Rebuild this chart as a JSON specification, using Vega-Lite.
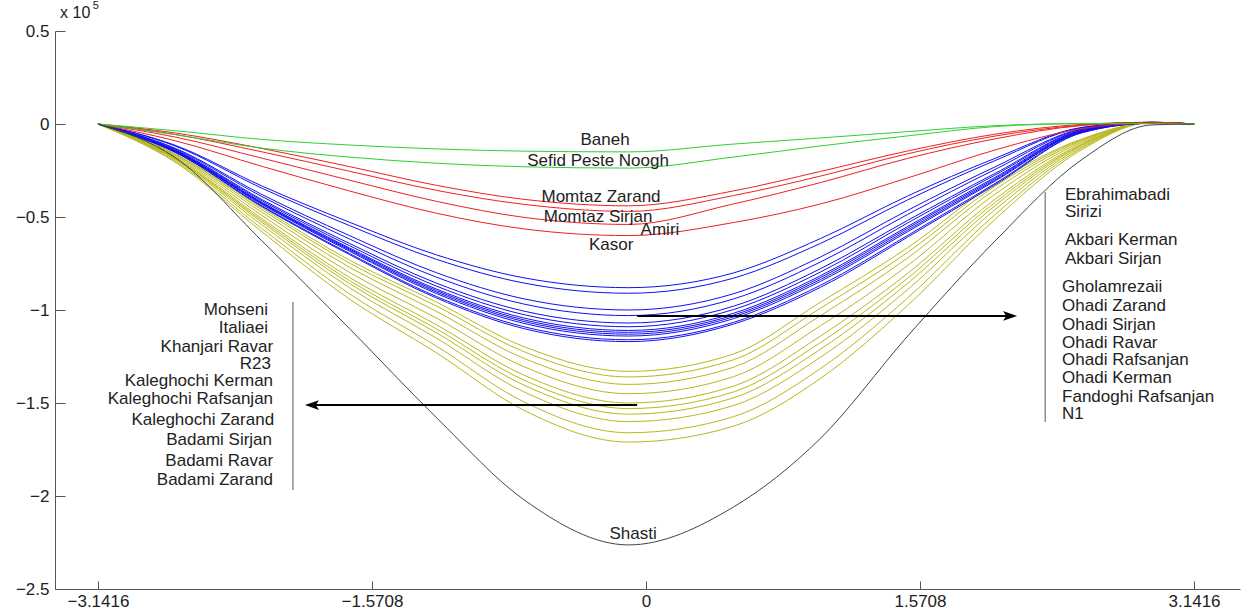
{
"$schema": "https://vega.github.io/schema/vega-lite/v6.json",
"width": 1185, "height": 558, "autosize": "none",
"padding": {"left": 55, "top": 31, "right": 12, "bottom": 23},
"background": "white",
"config": {"view": {"stroke": null}, "font": "Liberation Sans"},
"datasets": {
"yellow": [
{"s":"Mohseni","x":-3.1416,"y":0},{"s":"Mohseni","x":-2.7,"y":-0.16},{"s":"Mohseni","x":-2.2,"y":-0.452},{"s":"Mohseni","x":-1.7,"y":-0.732},{"s":"Mohseni","x":-1.2,"y":-0.958},{"s":"Mohseni","x":-0.7,"y":-1.197},{"s":"Mohseni","x":-0.1,"y":-1.33},{"s":"Mohseni","x":0.5,"y":-1.237},{"s":"Mohseni","x":1.0,"y":-0.958},{"s":"Mohseni","x":1.5,"y":-0.665},{"s":"Mohseni","x":2.0,"y":-0.319},{"s":"Mohseni","x":2.5,"y":-0.08},{"s":"Mohseni","x":2.9,"y":0.007},{"s":"Mohseni","x":3.1416,"y":0},
{"s":"Italiaei","x":-3.1416,"y":0},{"s":"Italiaei","x":-2.7,"y":-0.163},{"s":"Italiaei","x":-2.2,"y":-0.462},{"s":"Italiaei","x":-1.7,"y":-0.748},{"s":"Italiaei","x":-1.2,"y":-0.979},{"s":"Italiaei","x":-0.7,"y":-1.224},{"s":"Italiaei","x":-0.1,"y":-1.36},{"s":"Italiaei","x":0.5,"y":-1.268},{"s":"Italiaei","x":1.0,"y":-0.99},{"s":"Italiaei","x":1.5,"y":-0.69},{"s":"Italiaei","x":2.0,"y":-0.335},{"s":"Italiaei","x":2.5,"y":-0.084},{"s":"Italiaei","x":2.9,"y":0.007},{"s":"Italiaei","x":3.1416,"y":0},
{"s":"Khanjari Ravar","x":-3.1416,"y":0},{"s":"Khanjari Ravar","x":-2.7,"y":-0.168},{"s":"Khanjari Ravar","x":-2.2,"y":-0.476},{"s":"Khanjari Ravar","x":-1.7,"y":-0.77},{"s":"Khanjari Ravar","x":-1.2,"y":-1.008},{"s":"Khanjari Ravar","x":-0.7,"y":-1.26},{"s":"Khanjari Ravar","x":-0.1,"y":-1.4},{"s":"Khanjari Ravar","x":0.5,"y":-1.308},{"s":"Khanjari Ravar","x":1.0,"y":-1.03},{"s":"Khanjari Ravar","x":1.5,"y":-0.72},{"s":"Khanjari Ravar","x":2.0,"y":-0.353},{"s":"Khanjari Ravar","x":2.5,"y":-0.09},{"s":"Khanjari Ravar","x":2.9,"y":0.007},{"s":"Khanjari Ravar","x":3.1416,"y":0},
{"s":"R23","x":-3.1416,"y":0},{"s":"R23","x":-2.7,"y":-0.174},{"s":"R23","x":-2.2,"y":-0.493},{"s":"R23","x":-1.7,"y":-0.798},{"s":"R23","x":-1.2,"y":-1.044},{"s":"R23","x":-0.7,"y":-1.305},{"s":"R23","x":-0.1,"y":-1.45},{"s":"R23","x":0.5,"y":-1.359},{"s":"R23","x":1.0,"y":-1.085},{"s":"R23","x":1.5,"y":-0.761},{"s":"R23","x":2.0,"y":-0.378},{"s":"R23","x":2.5,"y":-0.097},{"s":"R23","x":2.9,"y":0.007},{"s":"R23","x":3.1416,"y":0},
{"s":"Kaleghochi Kerman","x":-3.1416,"y":0},{"s":"Kaleghochi Kerman","x":-2.7,"y":-0.18},{"s":"Kaleghochi Kerman","x":-2.2,"y":-0.51},{"s":"Kaleghochi Kerman","x":-1.7,"y":-0.825},{"s":"Kaleghochi Kerman","x":-1.2,"y":-1.08},{"s":"Kaleghochi Kerman","x":-0.7,"y":-1.35},{"s":"Kaleghochi Kerman","x":-0.1,"y":-1.5},{"s":"Kaleghochi Kerman","x":0.5,"y":-1.41},{"s":"Kaleghochi Kerman","x":1.0,"y":-1.14},{"s":"Kaleghochi Kerman","x":1.5,"y":-0.803},{"s":"Kaleghochi Kerman","x":2.0,"y":-0.405},{"s":"Kaleghochi Kerman","x":2.5,"y":-0.105},{"s":"Kaleghochi Kerman","x":2.9,"y":0.007},{"s":"Kaleghochi Kerman","x":3.1416,"y":0},
{"s":"Kaleghochi Rafsanjan","x":-3.1416,"y":0},{"s":"Kaleghochi Rafsanjan","x":-2.7,"y":-0.184},{"s":"Kaleghochi Rafsanjan","x":-2.2,"y":-0.52},{"s":"Kaleghochi Rafsanjan","x":-1.7,"y":-0.842},{"s":"Kaleghochi Rafsanjan","x":-1.2,"y":-1.102},{"s":"Kaleghochi Rafsanjan","x":-0.7,"y":-1.377},{"s":"Kaleghochi Rafsanjan","x":-0.1,"y":-1.53},{"s":"Kaleghochi Rafsanjan","x":0.5,"y":-1.441},{"s":"Kaleghochi Rafsanjan","x":1.0,"y":-1.175},{"s":"Kaleghochi Rafsanjan","x":1.5,"y":-0.829},{"s":"Kaleghochi Rafsanjan","x":2.0,"y":-0.422},{"s":"Kaleghochi Rafsanjan","x":2.5,"y":-0.11},{"s":"Kaleghochi Rafsanjan","x":2.9,"y":0.008},{"s":"Kaleghochi Rafsanjan","x":3.1416,"y":0},
{"s":"Kaleghochi Zarand","x":-3.1416,"y":0},{"s":"Kaleghochi Zarand","x":-2.7,"y":-0.187},{"s":"Kaleghochi Zarand","x":-2.2,"y":-0.53},{"s":"Kaleghochi Zarand","x":-1.7,"y":-0.858},{"s":"Kaleghochi Zarand","x":-1.2,"y":-1.123},{"s":"Kaleghochi Zarand","x":-0.7,"y":-1.404},{"s":"Kaleghochi Zarand","x":-0.1,"y":-1.56},{"s":"Kaleghochi Zarand","x":0.5,"y":-1.473},{"s":"Kaleghochi Zarand","x":1.0,"y":-1.211},{"s":"Kaleghochi Zarand","x":1.5,"y":-0.856},{"s":"Kaleghochi Zarand","x":2.0,"y":-0.44},{"s":"Kaleghochi Zarand","x":2.5,"y":-0.115},{"s":"Kaleghochi Zarand","x":2.9,"y":0.008},{"s":"Kaleghochi Zarand","x":3.1416,"y":0},
{"s":"Badami Sirjan","x":-3.1416,"y":0},{"s":"Badami Sirjan","x":-2.7,"y":-0.192},{"s":"Badami Sirjan","x":-2.2,"y":-0.544},{"s":"Badami Sirjan","x":-1.7,"y":-0.88},{"s":"Badami Sirjan","x":-1.2,"y":-1.152},{"s":"Badami Sirjan","x":-0.7,"y":-1.44},{"s":"Badami Sirjan","x":-0.1,"y":-1.6},{"s":"Badami Sirjan","x":0.5,"y":-1.514},{"s":"Badami Sirjan","x":1.0,"y":-1.254},{"s":"Badami Sirjan","x":1.5,"y":-0.89},{"s":"Badami Sirjan","x":2.0,"y":-0.461},{"s":"Badami Sirjan","x":2.5,"y":-0.122},{"s":"Badami Sirjan","x":2.9,"y":0.008},{"s":"Badami Sirjan","x":3.1416,"y":0},
{"s":"Badami Ravar","x":-3.1416,"y":0},{"s":"Badami Ravar","x":-2.7,"y":-0.199},{"s":"Badami Ravar","x":-2.2,"y":-0.564},{"s":"Badami Ravar","x":-1.7,"y":-0.913},{"s":"Badami Ravar","x":-1.2,"y":-1.195},{"s":"Badami Ravar","x":-0.7,"y":-1.494},{"s":"Badami Ravar","x":-0.1,"y":-1.66},{"s":"Badami Ravar","x":0.5,"y":-1.574},{"s":"Badami Ravar","x":1.0,"y":-1.315},{"s":"Badami Ravar","x":1.5,"y":-0.935},{"s":"Badami Ravar","x":2.0,"y":-0.488},{"s":"Badami Ravar","x":2.5,"y":-0.129},{"s":"Badami Ravar","x":2.9,"y":0.008},{"s":"Badami Ravar","x":3.1416,"y":0},
{"s":"Badami Zarand","x":-3.1416,"y":0},{"s":"Badami Zarand","x":-2.7,"y":-0.205},{"s":"Badami Zarand","x":-2.2,"y":-0.581},{"s":"Badami Zarand","x":-1.7,"y":-0.941},{"s":"Badami Zarand","x":-1.2,"y":-1.231},{"s":"Badami Zarand","x":-0.7,"y":-1.539},{"s":"Badami Zarand","x":-0.1,"y":-1.71},{"s":"Badami Zarand","x":0.5,"y":-1.625},{"s":"Badami Zarand","x":1.0,"y":-1.368},{"s":"Badami Zarand","x":1.5,"y":-0.975},{"s":"Badami Zarand","x":2.0,"y":-0.513},{"s":"Badami Zarand","x":2.5,"y":-0.137},{"s":"Badami Zarand","x":2.9,"y":0.009},{"s":"Badami Zarand","x":3.1416,"y":0}
],
"blue": [
{"s":"Ebrahimabadi","x":-3.1416,"y":0},{"s":"Ebrahimabadi","x":-2.7,"y":-0.114},{"s":"Ebrahimabadi","x":-2.2,"y":-0.334},{"s":"Ebrahimabadi","x":-1.7,"y":-0.528},{"s":"Ebrahimabadi","x":-1.2,"y":-0.704},{"s":"Ebrahimabadi","x":-0.7,"y":-0.827},{"s":"Ebrahimabadi","x":-0.1,"y":-0.88},{"s":"Ebrahimabadi","x":0.5,"y":-0.801},{"s":"Ebrahimabadi","x":1.0,"y":-0.616},{"s":"Ebrahimabadi","x":1.5,"y":-0.387},{"s":"Ebrahimabadi","x":2.0,"y":-0.185},{"s":"Ebrahimabadi","x":2.5,"y":-0.018},{"s":"Ebrahimabadi","x":2.9,"y":0.009},{"s":"Ebrahimabadi","x":3.1416,"y":0},
{"s":"Sirizi","x":-3.1416,"y":0},{"s":"Sirizi","x":-2.7,"y":-0.118},{"s":"Sirizi","x":-2.2,"y":-0.346},{"s":"Sirizi","x":-1.7,"y":-0.546},{"s":"Sirizi","x":-1.2,"y":-0.728},{"s":"Sirizi","x":-0.7,"y":-0.855},{"s":"Sirizi","x":-0.1,"y":-0.91},{"s":"Sirizi","x":0.5,"y":-0.829},{"s":"Sirizi","x":1.0,"y":-0.642},{"s":"Sirizi","x":1.5,"y":-0.408},{"s":"Sirizi","x":2.0,"y":-0.197},{"s":"Sirizi","x":2.5,"y":-0.02},{"s":"Sirizi","x":2.9,"y":0.009},{"s":"Sirizi","x":3.1416,"y":0},
{"s":"Akbari Kerman","x":-3.1416,"y":0},{"s":"Akbari Kerman","x":-2.7,"y":-0.13},{"s":"Akbari Kerman","x":-2.2,"y":-0.38},{"s":"Akbari Kerman","x":-1.7,"y":-0.6},{"s":"Akbari Kerman","x":-1.2,"y":-0.8},{"s":"Akbari Kerman","x":-0.7,"y":-0.94},{"s":"Akbari Kerman","x":-0.1,"y":-1.0},{"s":"Akbari Kerman","x":0.5,"y":-0.913},{"s":"Akbari Kerman","x":1.0,"y":-0.715},{"s":"Akbari Kerman","x":1.5,"y":-0.464},{"s":"Akbari Kerman","x":2.0,"y":-0.231},{"s":"Akbari Kerman","x":2.5,"y":-0.026},{"s":"Akbari Kerman","x":2.9,"y":0.009},{"s":"Akbari Kerman","x":3.1416,"y":0},
{"s":"Akbari Sirjan","x":-3.1416,"y":0},{"s":"Akbari Sirjan","x":-2.7,"y":-0.134},{"s":"Akbari Sirjan","x":-2.2,"y":-0.391},{"s":"Akbari Sirjan","x":-1.7,"y":-0.618},{"s":"Akbari Sirjan","x":-1.2,"y":-0.824},{"s":"Akbari Sirjan","x":-0.7,"y":-0.968},{"s":"Akbari Sirjan","x":-0.1,"y":-1.03},{"s":"Akbari Sirjan","x":0.5,"y":-0.941},{"s":"Akbari Sirjan","x":1.0,"y":-0.742},{"s":"Akbari Sirjan","x":1.5,"y":-0.486},{"s":"Akbari Sirjan","x":2.0,"y":-0.245},{"s":"Akbari Sirjan","x":2.5,"y":-0.029},{"s":"Akbari Sirjan","x":2.9,"y":0.008},{"s":"Akbari Sirjan","x":3.1416,"y":0},
{"s":"Gholamrezaii","x":-3.1416,"y":0},{"s":"Gholamrezaii","x":-2.7,"y":-0.139},{"s":"Gholamrezaii","x":-2.2,"y":-0.407},{"s":"Gholamrezaii","x":-1.7,"y":-0.642},{"s":"Gholamrezaii","x":-1.2,"y":-0.856},{"s":"Gholamrezaii","x":-0.7,"y":-1.006},{"s":"Gholamrezaii","x":-0.1,"y":-1.07},{"s":"Gholamrezaii","x":0.5,"y":-0.98},{"s":"Gholamrezaii","x":1.0,"y":-0.778},{"s":"Gholamrezaii","x":1.5,"y":-0.518},{"s":"Gholamrezaii","x":2.0,"y":-0.266},{"s":"Gholamrezaii","x":2.5,"y":-0.033},{"s":"Gholamrezaii","x":2.9,"y":0.007},{"s":"Gholamrezaii","x":3.1416,"y":0},
{"s":"Ohadi Zarand","x":-3.1416,"y":0},{"s":"Ohadi Zarand","x":-2.7,"y":-0.142},{"s":"Ohadi Zarand","x":-2.2,"y":-0.414},{"s":"Ohadi Zarand","x":-1.7,"y":-0.654},{"s":"Ohadi Zarand","x":-1.2,"y":-0.872},{"s":"Ohadi Zarand","x":-0.7,"y":-1.025},{"s":"Ohadi Zarand","x":-0.1,"y":-1.09},{"s":"Ohadi Zarand","x":0.5,"y":-0.998},{"s":"Ohadi Zarand","x":1.0,"y":-0.796},{"s":"Ohadi Zarand","x":1.5,"y":-0.532},{"s":"Ohadi Zarand","x":2.0,"y":-0.275},{"s":"Ohadi Zarand","x":2.5,"y":-0.035},{"s":"Ohadi Zarand","x":2.9,"y":0.007},{"s":"Ohadi Zarand","x":3.1416,"y":0},
{"s":"Ohadi Sirjan","x":-3.1416,"y":0},{"s":"Ohadi Sirjan","x":-2.7,"y":-0.144},{"s":"Ohadi Sirjan","x":-2.2,"y":-0.422},{"s":"Ohadi Sirjan","x":-1.7,"y":-0.666},{"s":"Ohadi Sirjan","x":-1.2,"y":-0.888},{"s":"Ohadi Sirjan","x":-0.7,"y":-1.043},{"s":"Ohadi Sirjan","x":-0.1,"y":-1.11},{"s":"Ohadi Sirjan","x":0.5,"y":-1.018},{"s":"Ohadi Sirjan","x":1.0,"y":-0.816},{"s":"Ohadi Sirjan","x":1.5,"y":-0.551},{"s":"Ohadi Sirjan","x":2.0,"y":-0.287},{"s":"Ohadi Sirjan","x":2.5,"y":-0.038},{"s":"Ohadi Sirjan","x":2.9,"y":0.006},{"s":"Ohadi Sirjan","x":3.1416,"y":0},
{"s":"Ohadi Ravar","x":-3.1416,"y":0},{"s":"Ohadi Ravar","x":-2.7,"y":-0.146},{"s":"Ohadi Ravar","x":-2.2,"y":-0.426},{"s":"Ohadi Ravar","x":-1.7,"y":-0.672},{"s":"Ohadi Ravar","x":-1.2,"y":-0.896},{"s":"Ohadi Ravar","x":-0.7,"y":-1.053},{"s":"Ohadi Ravar","x":-0.1,"y":-1.12},{"s":"Ohadi Ravar","x":0.5,"y":-1.028},{"s":"Ohadi Ravar","x":1.0,"y":-0.826},{"s":"Ohadi Ravar","x":1.5,"y":-0.56},{"s":"Ohadi Ravar","x":2.0,"y":-0.294},{"s":"Ohadi Ravar","x":2.5,"y":-0.039},{"s":"Ohadi Ravar","x":2.9,"y":0.006},{"s":"Ohadi Ravar","x":3.1416,"y":0},
{"s":"Ohadi Rafsanjan","x":-3.1416,"y":0},{"s":"Ohadi Rafsanjan","x":-2.7,"y":-0.147},{"s":"Ohadi Rafsanjan","x":-2.2,"y":-0.429},{"s":"Ohadi Rafsanjan","x":-1.7,"y":-0.678},{"s":"Ohadi Rafsanjan","x":-1.2,"y":-0.904},{"s":"Ohadi Rafsanjan","x":-0.7,"y":-1.062},{"s":"Ohadi Rafsanjan","x":-0.1,"y":-1.13},{"s":"Ohadi Rafsanjan","x":0.5,"y":-1.037},{"s":"Ohadi Rafsanjan","x":1.0,"y":-0.836},{"s":"Ohadi Rafsanjan","x":1.5,"y":-0.57},{"s":"Ohadi Rafsanjan","x":2.0,"y":-0.301},{"s":"Ohadi Rafsanjan","x":2.5,"y":-0.041},{"s":"Ohadi Rafsanjan","x":2.9,"y":0.005},{"s":"Ohadi Rafsanjan","x":3.1416,"y":0},
{"s":"Ohadi Kerman","x":-3.1416,"y":0},{"s":"Ohadi Kerman","x":-2.7,"y":-0.148},{"s":"Ohadi Kerman","x":-2.2,"y":-0.433},{"s":"Ohadi Kerman","x":-1.7,"y":-0.684},{"s":"Ohadi Kerman","x":-1.2,"y":-0.912},{"s":"Ohadi Kerman","x":-0.7,"y":-1.072},{"s":"Ohadi Kerman","x":-0.1,"y":-1.14},{"s":"Ohadi Kerman","x":0.5,"y":-1.047},{"s":"Ohadi Kerman","x":1.0,"y":-0.846},{"s":"Ohadi Kerman","x":1.5,"y":-0.579},{"s":"Ohadi Kerman","x":2.0,"y":-0.307},{"s":"Ohadi Kerman","x":2.5,"y":-0.042},{"s":"Ohadi Kerman","x":2.9,"y":0.005},{"s":"Ohadi Kerman","x":3.1416,"y":0},
{"s":"Fandoghi Rafsanjan","x":-3.1416,"y":0},{"s":"Fandoghi Rafsanjan","x":-2.7,"y":-0.151},{"s":"Fandoghi Rafsanjan","x":-2.2,"y":-0.441},{"s":"Fandoghi Rafsanjan","x":-1.7,"y":-0.696},{"s":"Fandoghi Rafsanjan","x":-1.2,"y":-0.928},{"s":"Fandoghi Rafsanjan","x":-0.7,"y":-1.09},{"s":"Fandoghi Rafsanjan","x":-0.1,"y":-1.16},{"s":"Fandoghi Rafsanjan","x":0.5,"y":-1.067},{"s":"Fandoghi Rafsanjan","x":1.0,"y":-0.867},{"s":"Fandoghi Rafsanjan","x":1.5,"y":-0.599},{"s":"Fandoghi Rafsanjan","x":2.0,"y":-0.321},{"s":"Fandoghi Rafsanjan","x":2.5,"y":-0.045},{"s":"Fandoghi Rafsanjan","x":2.9,"y":0.004},{"s":"Fandoghi Rafsanjan","x":3.1416,"y":0},
{"s":"N1","x":-3.1416,"y":0},{"s":"N1","x":-2.7,"y":-0.152},{"s":"N1","x":-2.2,"y":-0.445},{"s":"N1","x":-1.7,"y":-0.702},{"s":"N1","x":-1.2,"y":-0.936},{"s":"N1","x":-0.7,"y":-1.1},{"s":"N1","x":-0.1,"y":-1.17},{"s":"N1","x":0.5,"y":-1.076},{"s":"N1","x":1.0,"y":-0.878},{"s":"N1","x":1.5,"y":-0.608},{"s":"N1","x":2.0,"y":-0.328},{"s":"N1","x":2.5,"y":-0.047},{"s":"N1","x":2.9,"y":0.004},{"s":"N1","x":3.1416,"y":0}
],
"red": [
{"s":"Momtaz Zarand","x":-3.1416,"y":0},{"s":"Momtaz Zarand","x":-2.7,"y":-0.048},{"s":"Momtaz Zarand","x":-2.2,"y":-0.132},{"s":"Momtaz Zarand","x":-1.7,"y":-0.229},{"s":"Momtaz Zarand","x":-1.2,"y":-0.33},{"s":"Momtaz Zarand","x":-0.7,"y":-0.405},{"s":"Momtaz Zarand","x":-0.1,"y":-0.44},{"s":"Momtaz Zarand","x":0.5,"y":-0.36},{"s":"Momtaz Zarand","x":1.0,"y":-0.255},{"s":"Momtaz Zarand","x":1.5,"y":-0.145},{"s":"Momtaz Zarand","x":2.0,"y":-0.055},{"s":"Momtaz Zarand","x":2.5,"y":-0.002},{"s":"Momtaz Zarand","x":2.9,"y":0.009},{"s":"Momtaz Zarand","x":3.1416,"y":0},
{"s":"Momtaz Sirjan","x":-3.1416,"y":0},{"s":"Momtaz Sirjan","x":-2.7,"y":-0.056},{"s":"Momtaz Sirjan","x":-2.2,"y":-0.15},{"s":"Momtaz Sirjan","x":-1.7,"y":-0.254},{"s":"Momtaz Sirjan","x":-1.2,"y":-0.357},{"s":"Momtaz Sirjan","x":-0.7,"y":-0.432},{"s":"Momtaz Sirjan","x":-0.1,"y":-0.47},{"s":"Momtaz Sirjan","x":0.5,"y":-0.385},{"s":"Momtaz Sirjan","x":1.0,"y":-0.28},{"s":"Momtaz Sirjan","x":1.5,"y":-0.16},{"s":"Momtaz Sirjan","x":2.0,"y":-0.065},{"s":"Momtaz Sirjan","x":2.5,"y":-0.006},{"s":"Momtaz Sirjan","x":2.9,"y":0.009},{"s":"Momtaz Sirjan","x":3.1416,"y":0},
{"s":"Amiri","x":-3.1416,"y":0},{"s":"Amiri","x":-2.7,"y":-0.07},{"s":"Amiri","x":-2.2,"y":-0.184},{"s":"Amiri","x":-1.7,"y":-0.302},{"s":"Amiri","x":-1.2,"y":-0.416},{"s":"Amiri","x":-0.7,"y":-0.502},{"s":"Amiri","x":-0.1,"y":-0.54},{"s":"Amiri","x":0.5,"y":-0.43},{"s":"Amiri","x":1.0,"y":-0.315},{"s":"Amiri","x":1.5,"y":-0.185},{"s":"Amiri","x":2.0,"y":-0.08},{"s":"Amiri","x":2.5,"y":-0.008},{"s":"Amiri","x":2.9,"y":0.008},{"s":"Amiri","x":3.1416,"y":0},
{"s":"Kasor","x":-3.1416,"y":0},{"s":"Kasor","x":-2.7,"y":-0.09},{"s":"Kasor","x":-2.2,"y":-0.228},{"s":"Kasor","x":-1.7,"y":-0.36},{"s":"Kasor","x":-1.2,"y":-0.48},{"s":"Kasor","x":-0.7,"y":-0.564},{"s":"Kasor","x":-0.1,"y":-0.6},{"s":"Kasor","x":0.5,"y":-0.53},{"s":"Kasor","x":1.0,"y":-0.43},{"s":"Kasor","x":1.5,"y":-0.29},{"s":"Kasor","x":2.0,"y":-0.14},{"s":"Kasor","x":2.5,"y":-0.025},{"s":"Kasor","x":2.9,"y":0.006},{"s":"Kasor","x":3.1416,"y":0}
],
"green": [
{"s":"Baneh","x":-3.1416,"y":0},{"s":"Baneh","x":-2.7,"y":-0.036},{"s":"Baneh","x":-2.2,"y":-0.083},{"s":"Baneh","x":-1.7,"y":-0.113},{"s":"Baneh","x":-1.2,"y":-0.134},{"s":"Baneh","x":-0.7,"y":-0.146},{"s":"Baneh","x":-0.1,"y":-0.15},{"s":"Baneh","x":0.5,"y":-0.108},{"s":"Baneh","x":1.0,"y":-0.075},{"s":"Baneh","x":1.5,"y":-0.041},{"s":"Baneh","x":2.0,"y":-0.009},{"s":"Baneh","x":2.5,"y":0.002},{"s":"Baneh","x":2.9,"y":0.002},{"s":"Baneh","x":3.1416,"y":0},
{"s":"Sefid Peste Noogh","x":-3.1416,"y":0},{"s":"Sefid Peste Noogh","x":-2.7,"y":-0.057},{"s":"Sefid Peste Noogh","x":-2.2,"y":-0.13},{"s":"Sefid Peste Noogh","x":-1.7,"y":-0.178},{"s":"Sefid Peste Noogh","x":-1.2,"y":-0.211},{"s":"Sefid Peste Noogh","x":-0.7,"y":-0.23},{"s":"Sefid Peste Noogh","x":-0.1,"y":-0.237},{"s":"Sefid Peste Noogh","x":0.5,"y":-0.178},{"s":"Sefid Peste Noogh","x":1.0,"y":-0.118},{"s":"Sefid Peste Noogh","x":1.5,"y":-0.064},{"s":"Sefid Peste Noogh","x":2.0,"y":-0.014},{"s":"Sefid Peste Noogh","x":2.5,"y":0.002},{"s":"Sefid Peste Noogh","x":2.9,"y":0.002},{"s":"Sefid Peste Noogh","x":3.1416,"y":0}
],
"black": [
{"s":"Shasti","x":-3.1416,"y":0},{"s":"Shasti","x":-2.7,"y":-0.18},{"s":"Shasti","x":-2.2,"y":-0.63},{"s":"Shasti","x":-1.7,"y":-1.1},{"s":"Shasti","x":-1.2,"y":-1.58},{"s":"Shasti","x":-0.7,"y":-2.02},{"s":"Shasti","x":-0.1,"y":-2.263},{"s":"Shasti","x":0.5,"y":-2.06},{"s":"Shasti","x":1.0,"y":-1.69},{"s":"Shasti","x":1.5,"y":-1.14},{"s":"Shasti","x":2.0,"y":-0.63},{"s":"Shasti","x":2.5,"y":-0.19},{"s":"Shasti","x":2.9,"y":-0.005},{"s":"Shasti","x":3.1416,"y":0}
],
"labC": [
{"t":"Baneh","x":-0.235,"y":-0.086},{"t":"Sefid Peste Noogh","x":-0.275,"y":-0.199},{"t":"Momtaz Zarand","x":-0.258,"y":-0.392},{"t":"Momtaz Sirjan","x":-0.275,"y":-0.5},{"t":"Amiri","x":0.08,"y":-0.57},{"t":"Kasor","x":-0.2,"y":-0.651},{"t":"Shasti","x":-0.074,"y":-2.205}
],
"labR": [
{"t":"Mohseni","x":-2.167,"y":-1.0},{"t":"Italiaei","x":-2.167,"y":-1.097},{"t":"Khanjari Ravar","x":-2.138,"y":-1.199},{"t":"R23","x":-2.15,"y":-1.29},{"t":"Kaleghochi Kerman","x":-2.138,"y":-1.382},{"t":"Kaleghochi Rafsanjan","x":-2.138,"y":-1.478},{"t":"Kaleghochi Zarand","x":-2.132,"y":-1.591},{"t":"Badami Sirjan","x":-2.144,"y":-1.699},{"t":"Badami Ravar","x":-2.138,"y":-1.812},{"t":"Badami Zarand","x":-2.138,"y":-1.914}
],
"labL": [
{"t":"Ebrahimabadi","x":2.402,"y":-0.382},{"t":"Sirizi","x":2.402,"y":-0.473},{"t":"Akbari Kerman","x":2.402,"y":-0.624},{"t":"Akbari Sirjan","x":2.402,"y":-0.726},{"t":"Gholamrezaii","x":2.385,"y":-0.876},{"t":"Ohadi Zarand","x":2.385,"y":-0.978},{"t":"Ohadi Sirjan","x":2.385,"y":-1.081},{"t":"Ohadi Ravar","x":2.385,"y":-1.177},{"t":"Ohadi Rafsanjan","x":2.385,"y":-1.269},{"t":"Ohadi Kerman","x":2.385,"y":-1.366},{"t":"Fandoghi Rafsanjan","x":2.385,"y":-1.468},{"t":"N1","x":2.385,"y":-1.559}
],
"exp1": [{"t":"x 10","x":-3.359,"y":0.597}],
"exp2": [{"t":"5","x":-3.172,"y":0.632}],
"vr": [{"x":-2.024,"y":-0.957,"y2":-1.968},{"x":2.288,"y":-0.366,"y2":-1.602}],
"hr": [{"x":-0.051,"x2":2.08,"y":-1.032},{"x":-0.051,"x2":-1.91,"y":-1.511}],
"ahr": [{"x":2.087,"y":-1.032}],
"ahl": [{"x":-1.915,"y":-1.511}]
},
"encoding": {
"x": {"field":"x","type":"quantitative","scale":{"domain":[-3.388,3.405],"nice":false,"zero":false},
 "axis":{"values":[-3.1416,-1.5708,0,1.5708,3.1416],"format":".4~f","grid":false,"title":null,"tickSize":-8,"labelPadding":12,"domainColor":"#555","tickColor":"#555","labelColor":"#222","labelFont":"Liberation Sans","labelFontSize":17,"labelFlush":false,"labelOverlap":false}},
"y": {"field":"y","type":"quantitative","scale":{"domain":[-2.5,0.5],"nice":false,"zero":false},
 "axis":{"values":[-2.5,-2,-1.5,-1,-0.5,0,0.5],"format":".1~f","grid":false,"title":null,"tickSize":-10,"labelPadding":16,"domainColor":"#555","tickColor":"#555","labelColor":"#222","labelFont":"Liberation Sans","labelFontSize":17,"labelFlush":false,"labelOverlap":false}}
},
"layer": [
{"data":{"name":"yellow"},"mark":{"type":"line","interpolate":"monotone","strokeWidth":1,"color":"#b8b81c"},"encoding":{"detail":{"field":"s"}}},
{"data":{"name":"blue"},"mark":{"type":"line","interpolate":"monotone","strokeWidth":1,"color":"#1010f0"},"encoding":{"detail":{"field":"s"}}},
{"data":{"name":"red"},"mark":{"type":"line","interpolate":"monotone","strokeWidth":1,"color":"#f02020"},"encoding":{"detail":{"field":"s"}}},
{"data":{"name":"green"},"mark":{"type":"line","interpolate":"monotone","strokeWidth":1,"color":"#30d030"},"encoding":{"detail":{"field":"s"}}},
{"data":{"name":"black"},"mark":{"type":"line","interpolate":"monotone","strokeWidth":1,"color":"#444444"},"encoding":{"detail":{"field":"s"}}},
{"data":{"name":"vr"},"mark":{"type":"rule","color":"#555","strokeWidth":1},"encoding":{"y2":{"field":"y2"}}},
{"data":{"name":"hr"},"mark":{"type":"rule","color":"#000","strokeWidth":2},"encoding":{"x2":{"field":"x2"}}},
{"data":{"name":"ahr"},"mark":{"type":"point","shape":"M1,0L-1,-0.7L-0.55,0L-1,0.7Z","filled":true,"color":"#000","size":196,"opacity":1}},
{"data":{"name":"ahl"},"mark":{"type":"point","shape":"M-1,0L1,-0.7L0.55,0L1,0.7Z","filled":true,"color":"#000","size":196,"opacity":1}},
{"data":{"name":"labC"},"mark":{"type":"text","align":"center","baseline":"middle","font":"Liberation Sans","fontSize":17,"color":"#222"},"encoding":{"text":{"field":"t"}}},
{"data":{"name":"labR"},"mark":{"type":"text","align":"right","baseline":"middle","font":"Liberation Sans","fontSize":17,"color":"#222"},"encoding":{"text":{"field":"t"}}},
{"data":{"name":"labL"},"mark":{"type":"text","align":"left","baseline":"middle","font":"Liberation Sans","fontSize":17,"color":"#222"},"encoding":{"text":{"field":"t"}}},
{"data":{"name":"exp1"},"mark":{"type":"text","align":"left","baseline":"middle","font":"Liberation Sans","fontSize":16,"color":"#222"},"encoding":{"text":{"field":"t"}}},
{"data":{"name":"exp2"},"mark":{"type":"text","align":"left","baseline":"middle","font":"Liberation Sans","fontSize":11,"color":"#222"},"encoding":{"text":{"field":"t"}}}
]
}
